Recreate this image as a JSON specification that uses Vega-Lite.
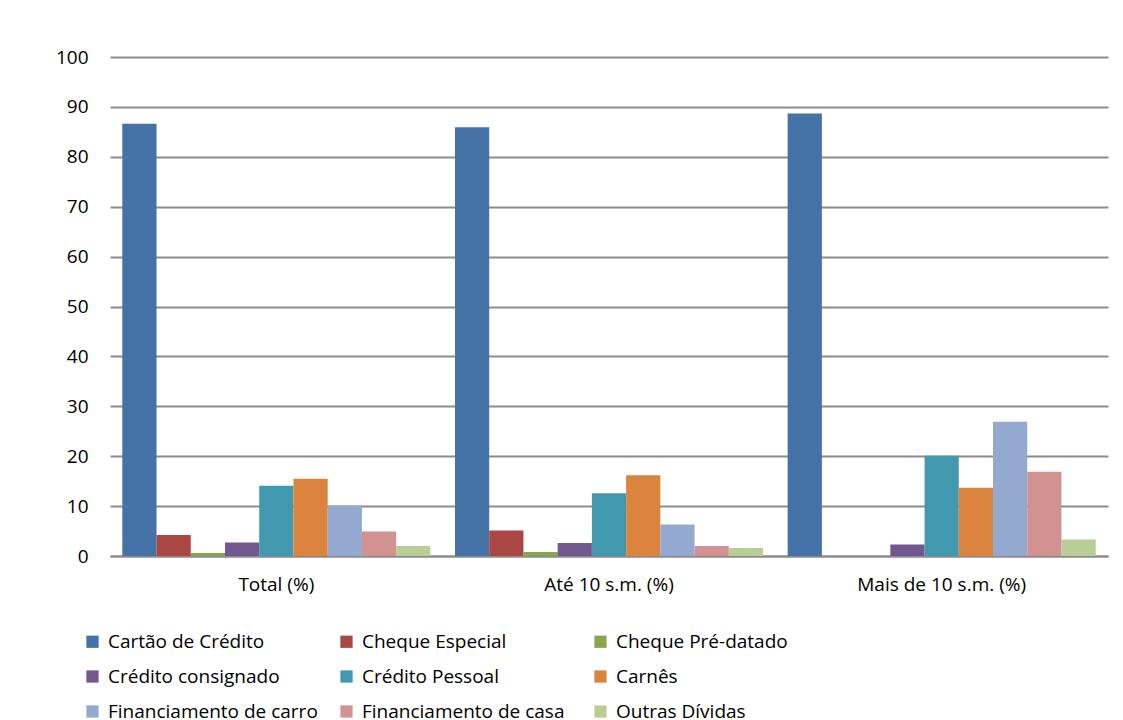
{
  "$schema": "https://vega.github.io/schema/vega-lite/v6.json",
  "autosize": "none",
  "width": 998,
  "height": 499,
  "padding": {"left": 110, "top": 57, "right": 15, "bottom": 164},
  "background": "white",
  "config": {
    "font": "Open Sans",
    "view": {"stroke": null}
  },
  "data": {
    "values": [
      {"grupo": "Total (%)", "tipo": "Cartão de Crédito", "valor": 86.6},
      {"grupo": "Total (%)", "tipo": "Cheque Especial", "valor": 4.2},
      {"grupo": "Total (%)", "tipo": "Cheque Pré-datado", "valor": 0.6},
      {"grupo": "Total (%)", "tipo": "Crédito consignado", "valor": 2.7},
      {"grupo": "Total (%)", "tipo": "Crédito Pessoal", "valor": 14.1},
      {"grupo": "Total (%)", "tipo": "Carnês", "valor": 15.5},
      {"grupo": "Total (%)", "tipo": "Financiamento de carro", "valor": 10.1},
      {"grupo": "Total (%)", "tipo": "Financiamento de casa", "valor": 4.9},
      {"grupo": "Total (%)", "tipo": "Outras Dívidas", "valor": 2.0},
      {"grupo": "Até 10 s.m. (%)", "tipo": "Cartão de Crédito", "valor": 85.9},
      {"grupo": "Até 10 s.m. (%)", "tipo": "Cheque Especial", "valor": 5.1},
      {"grupo": "Até 10 s.m. (%)", "tipo": "Cheque Pré-datado", "valor": 0.8},
      {"grupo": "Até 10 s.m. (%)", "tipo": "Crédito consignado", "valor": 2.6},
      {"grupo": "Até 10 s.m. (%)", "tipo": "Crédito Pessoal", "valor": 12.6},
      {"grupo": "Até 10 s.m. (%)", "tipo": "Carnês", "valor": 16.2},
      {"grupo": "Até 10 s.m. (%)", "tipo": "Financiamento de carro", "valor": 6.3},
      {"grupo": "Até 10 s.m. (%)", "tipo": "Financiamento de casa", "valor": 2.0},
      {"grupo": "Até 10 s.m. (%)", "tipo": "Outras Dívidas", "valor": 1.6},
      {"grupo": "Mais de 10 s.m. (%)", "tipo": "Cartão de Crédito", "valor": 88.7},
      {"grupo": "Mais de 10 s.m. (%)", "tipo": "Cheque Especial", "valor": 0},
      {"grupo": "Mais de 10 s.m. (%)", "tipo": "Cheque Pré-datado", "valor": 0},
      {"grupo": "Mais de 10 s.m. (%)", "tipo": "Crédito consignado", "valor": 2.3},
      {"grupo": "Mais de 10 s.m. (%)", "tipo": "Crédito Pessoal", "valor": 20.1},
      {"grupo": "Mais de 10 s.m. (%)", "tipo": "Carnês", "valor": 13.7},
      {"grupo": "Mais de 10 s.m. (%)", "tipo": "Financiamento de carro", "valor": 26.9},
      {"grupo": "Mais de 10 s.m. (%)", "tipo": "Financiamento de casa", "valor": 16.9},
      {"grupo": "Mais de 10 s.m. (%)", "tipo": "Outras Dívidas", "valor": 3.3}
    ]
  },
  "mark": {"type": "bar"},
  "encoding": {
    "x": {
      "field": "grupo",
      "type": "nominal",
      "sort": ["Total (%)", "Até 10 s.m. (%)", "Mais de 10 s.m. (%)"],
      "scale": {"paddingInner": 0.074, "paddingOuter": 0.037},
      "axis": {
        "title": null,
        "labelAngle": 0,
        "labelFontSize": 19,
        "labelColor": "#000000",
        "labelPadding": 19,
        "ticks": false,
        "domainColor": "#8c8c8c",
        "domainWidth": 2
      }
    },
    "xOffset": {
      "field": "tipo",
      "type": "nominal",
      "sort": ["Cartão de Crédito", "Cheque Especial", "Cheque Pré-datado", "Crédito consignado", "Crédito Pessoal", "Carnês", "Financiamento de carro", "Financiamento de casa", "Outras Dívidas"],
      "scale": {"paddingInner": 0, "paddingOuter": 0}
    },
    "y": {
      "field": "valor",
      "type": "quantitative",
      "scale": {"domain": [0, 100]},
      "axis": {
        "title": null,
        "values": [0, 10, 20, 30, 40, 50, 60, 70, 80, 90, 100],
        "labelFontSize": 19,
        "labelColor": "#000000",
        "labelPadding": 22,
        "ticks": false,
        "domain": false,
        "gridColor": "#8c8c8c",
        "gridWidth": 2
      }
    },
    "color": {
      "field": "tipo",
      "type": "nominal",
      "scale": {
        "domain": ["Cartão de Crédito", "Cheque Especial", "Cheque Pré-datado", "Crédito consignado", "Crédito Pessoal", "Carnês", "Financiamento de carro", "Financiamento de casa", "Outras Dívidas"],
        "range": ["#4572A7", "#AA4643", "#89A54E", "#71588F", "#4198AF", "#DB843D", "#93A9CF", "#D19392", "#B9CD96"]
      },
      "legend": {
        "title": null,
        "orient": "none",
        "legendX": -27,
        "legendY": 575,
        "direction": "horizontal",
        "columns": 3,
        "gridAlign": "all",
        "columnPadding": 19,
        "rowPadding": 15,
        "symbolType": "square",
        "symbolSize": 150,
        "symbolStrokeWidth": 0,
        "symbolOpacity": 1,
        "labelFontSize": 19,
        "labelColor": "#000000",
        "labelOffset": 6,
        "labelLimit": 400
      }
    }
  }
}
